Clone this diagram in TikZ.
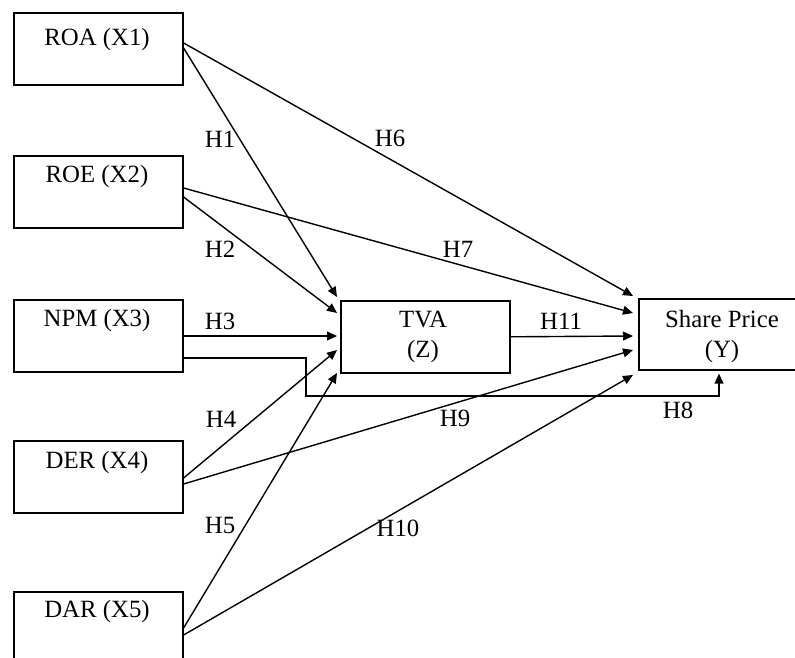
\documentclass[tikz,border=0pt]{standalone}
\usepackage{fontspec}
\setmainfont{Liberation Serif}
\usetikzlibrary{arrows.meta,calc}
\begin{document}
\begin{tikzpicture}[
  x=0.5pt, y=-0.5pt,
  font=\fontsize{12.4}{15}\selectfont,
  varbox/.style={draw, line width=0.8pt, minimum width=84.5pt, minimum height=36pt,
                 inner sep=0pt, anchor=north west},
  boxtext/.style={inner sep=0pt, align=center},
  hyp/.style={inner sep=0pt},
  link/.style={line width=0.7pt, -{Triangle[length=5pt,width=4.4pt]}},
]
\useasboundingbox (0,0) rectangle (795,657);

% independent variables
\node[varbox] (roa) at (13,12) {};
\node[varbox] (roe) at (13,155) {};
\node[varbox] (npm) at (13,299) {};
\node[varbox] (der) at (13,440) {};
\node[varbox, minimum height=40pt] (dar) at (13,591) {};
% intervening and dependent variables
\node[varbox] (tva) at (340,300) {};
\node[varbox, minimum width=85pt, minimum height=35.5pt] (sp) at (638,298) {};

% box captions
\node[boxtext] (troa) at (97,40) {ROA (X1)};
\node[boxtext] (troe) at (97,177) {ROE (X2)};
\node[boxtext] (tnpm) at (97,321) {NPM (X3)};
\node[boxtext] (tder) at (97,463) {DER (X4)};
\node[boxtext] (tdar) at (97,612) {DAR (X5)};
\node[boxtext] (ttva) at (423,337) {TVA\\(Z)};
\node[boxtext] (tsp) at (722,337) {Share Price\\(Y)};

% paths into TVA
\draw[link] (roa.north east) ++(0,36) -- ($(tva.north west)+(-3,-3)$);
\draw[link] (roe.north east) ++(0,42) -- ($(tva.north west)+(-3,13)$);
\draw[link] (npm.north east) ++(0,37) -- ($(tva.north west)+(-3,36)$);
\draw[link] (der.north east) ++(0,38) -- ($(tva.north west)+(-3,50)$);
\draw[link] (dar.north east) ++(0,37) -- ($(tva.north west)+(-3,73)$);

% paths into Share Price
\draw[link] (roa.north east) ++(0,31) -- ($(sp.north west)+(-5,-2)$);
\draw[link] (roe.north east) ++(0,33) -- ($(sp.north west)+(-5,15)$);
\draw[link] (tva.east) -- ($(sp.north west)+(-5,38)$);
\draw[link] (der.north east) ++(0,44) -- ($(sp.north west)+(-5,52)$);
\draw[link] (dar.north east) ++(0,44) -- ($(sp.north west)+(-5,77)$);
\coordinate (h8a) at (306,358);
\coordinate (h8b) at (306,396);
\coordinate (h8c) at (719,396);
\draw[link] (npm.north east) ++(0,59) -- (h8a) -- (h8b) -- (h8c)
  -- ($(sp.south west)+(81,3)$);

% hypothesis labels
\node[hyp] (h1) at (220,139) {H1};
\node[hyp] (h2) at (220,249) {H2};
\node[hyp] (h3) at (220,321) {H3};
\node[hyp] (h4) at (221,419) {H4};
\node[hyp] (h5) at (220,525) {H5};
\node[hyp] (h6) at (390,138) {H6};
\node[hyp] (h7) at (458,249) {H7};
\node[hyp] (h8) at (678,410) {H8};
\node[hyp] (h9) at (455,418) {H9};
\node[hyp] (h10) at (398,528) {H10};
\node[hyp] (h11) at (561,321) {H11};
\end{tikzpicture}
\end{document}
